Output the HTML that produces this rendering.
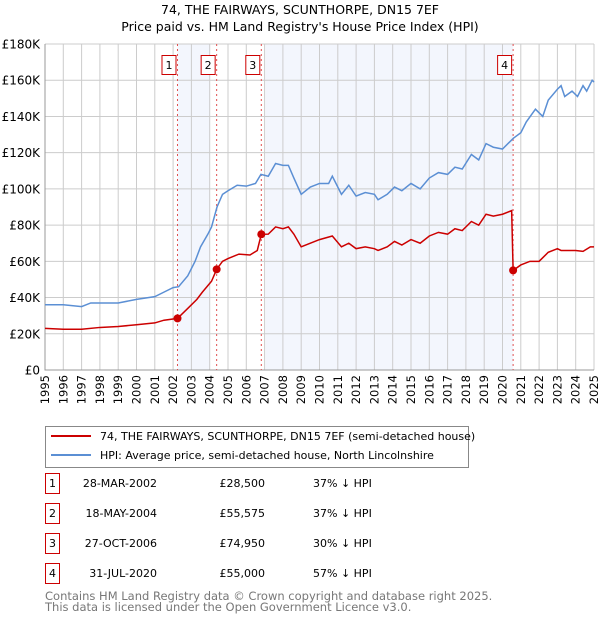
<!DOCTYPE html>
<html><head><meta charset="utf-8"><style>
body{margin:0;background:#fff;font-family:"Liberation Sans","DejaVu Sans",sans-serif;}
svg text{font-family:"DejaVu Sans","Liberation Sans",sans-serif;}
</style></head><body>
<svg id="c" width="600" height="620" xmlns="http://www.w3.org/2000/svg">
<text x="300" y="14" text-anchor="middle" font-size="12.5" fill="#000">74, THE FAIRWAYS, SCUNTHORPE, DN15 7EF</text>
<text x="300" y="31" text-anchor="middle" font-size="12.5" fill="#000">Price paid vs. HM Land Registry's House Price Index (HPI)</text>
<g id="plot"></g>
<g>
<rect x="45.5" y="426.5" width="423" height="41" fill="#fff" stroke="#888"/>
<line x1="51" y1="436" x2="91" y2="436" stroke="#cc0000" stroke-width="2"/>
<text x="100" y="440" font-size="11">74, THE FAIRWAYS, SCUNTHORPE, DN15 7EF (semi-detached house)</text>
<line x1="51" y1="455" x2="91" y2="455" stroke="#5b8fd4" stroke-width="2"/>
<text x="100" y="459" font-size="11">HPI: Average price, semi-detached house, North Lincolnshire</text>
</g>
<g id="table" font-size="11"></g>
<text x="45" y="600" font-size="11.5" fill="#777">Contains HM Land Registry data © Crown copyright and database right 2025.</text>
<text x="45" y="611" font-size="11.5" fill="#777">This data is licensed under the Open Government Licence v3.0.</text>
</svg>
<script>
const hpiT=[1995,1996,1997,1997.5,1998,1999,2000,2001,2001.5,2002,2002.3,2002.8,2003.2,2003.5,2003.9,2004.1,2004.4,2004.7,2005,2005.5,2006,2006.5,2006.8,2007.2,2007.6,2008,2008.3,2008.6,2009,2009.5,2010,2010.5,2010.7,2011.2,2011.6,2012,2012.5,2013,2013.2,2013.7,2014.1,2014.5,2015,2015.5,2016,2016.5,2017,2017.4,2017.8,2018.3,2018.7,2019.1,2019.5,2020,2020.6,2021,2021.3,2021.8,2022.2,2022.5,2023,2023.2,2023.4,2023.8,2024.1,2024.4,2024.6,2024.9,2025];
const hpiV=[36,36,35,37,37,37,39,40.5,43,45.5,46,52,60,68,75,79,90,97,99,102,101.5,103,108,107,114,113,113,106,97,101,103,103,107,97,102,96,98,97,94,97,101,99,103,100,106,109,108,112,111,119,116,125,123,122,128,131,137,144,140,149,155,157,151,154,151,157,154,160,159];
const ppT=[1995,1996,1997,1998,1999,2000,2001,2001.5,2002.24,2002.8,2003.3,2003.6,2004.1,2004.38,2004.7,2005,2005.6,2006.2,2006.6,2006.82,2007.2,2007.6,2008,2008.3,2008.6,2009,2009.5,2010,2010.7,2011.2,2011.6,2012,2012.5,2013,2013.2,2013.7,2014.1,2014.5,2015,2015.5,2016,2016.5,2017,2017.4,2017.8,2018.3,2018.7,2019.1,2019.5,2020,2020.5,2020.58,2021,2021.5,2022,2022.5,2023,2023.2,2023.6,2024,2024.4,2024.8,2025];
const ppV=[23,22.5,22.5,23.5,24,25,26,27.5,28.5,34,39,43,49,55.575,60,61.5,64,63.5,66,74.95,75,79,78,79,75,68,70,72,74,68,70,67,68,67,66,68,71,69,72,70,74,76,75,78,77,82,80,86,85,86,88,55,58,60,60,65,67,66,66,66,65.5,68,68];
const saleLabels=["1","2","3","4"];
const saleT=[2002.24,2004.38,2006.82,2020.58];
const saleV=[28.5,55.575,74.95,55];
const saleDates=["28-MAR-2002","18-MAY-2004","27-OCT-2006","31-JUL-2020"];
const salePrices=["£28,500","£55,575","£74,950","£55,000"];
const saleHpi=["37% ↓ HPI","37% ↓ HPI","30% ↓ HPI","57% ↓ HPI"];
const yTicks=[0,20,40,60,80,100,120,140,160,180];
const yTickLabels=["£0","£20K","£40K","£60K","£80K","£100K","£120K","£140K","£160K","£180K"];
const years=[];for(let y=1995;y<=2025;y++)years.push(y);
const ns="http://www.w3.org/2000/svg";
const X=t=>45+(t-1995)*(594-45)/30, Y=v=>370-v*(370-44)/180;
const g=document.getElementById('plot');
function mk(tag,at,par){const e=document.createElementNS(ns,tag);for(const k in at)e.setAttribute(k,at[k]);(par||g).appendChild(e);return e;}
let r=mk('rect',{x:X(saleT[0]),y:44,width:X(2004)-X(saleT[0]),height:326,fill:'#f3f6fd'});


r=mk('rect',{x:X(2007.05),y:44,width:X(saleT[3])-X(2007.05),height:326,fill:'#f3f6fd'});


years.forEach(y=>{const l=mk('line',{x1:X(y),x2:X(y),y1:44,y2:370,stroke:'#ccc'});


const t=mk('text',{x:0,y:0,'font-size':11.5,'text-anchor':'end',transform:`translate(${X(y)+4},375) rotate(-90)`});t.textContent=y;

});
yTicks.forEach((v,i)=>{const l=mk('line',{x1:45,x2:594,y1:Y(v),y2:Y(v),stroke:'#ccc'});


const t=mk('text',{x:40,y:Y(v)+4.5,'font-size':12,'text-anchor':'end'});t.textContent=yTickLabels[i];

});
const ax=mk('path',{d:`M45,44V370H594`,fill:'none',stroke:'#999'});


saleT.forEach((t,i)=>{const l=mk('line',{x1:X(t),x2:X(t),y1:44,y2:370,stroke:'#e05050','stroke-dasharray':'2,3'});

});
const hp=mk('polyline',{points:hpiT.map((t,i)=>X(t)+','+Y(hpiV[i])).join(' '),fill:'none',stroke:'#5b8fd4','stroke-width':1.5});


const pp=mk('polyline',{points:ppT.map((t,i)=>X(t)+','+Y(ppV[i])).join(' '),fill:'none',stroke:'#cc0000','stroke-width':1.5});


saleT.forEach((t,i)=>{const c=mk('circle',{cx:X(t),cy:Y(saleV[i]),r:4,fill:'#cc0000'});


const b=mk('rect',{x:X(t)-15.5,y:55.5,width:14,height:19,fill:'#fff',stroke:'#cc0000'});


const tx=mk('text',{x:X(t)-8.5,y:69,'font-size':11,'text-anchor':'middle'});tx.textContent=saleLabels[i];

});
const tb=document.getElementById('table');
saleLabels.forEach((s,i)=>{const y=483+i*30;
const b=mk('rect',{x:45.5,y:y-9.5,width:14,height:20,fill:'#fff',stroke:'#cc0000'},tb);


const cells=[[52.5,'middle',s],[157,'end',saleDates[i]],[265,'end',salePrices[i]],[313,'start',saleHpi[i]]];
cells.forEach(c=>{const t=mk('text',{x:c[0],y:y+4,'text-anchor':c[1]},tb);t.textContent=c[2];

});});
</script>
</body></html>
